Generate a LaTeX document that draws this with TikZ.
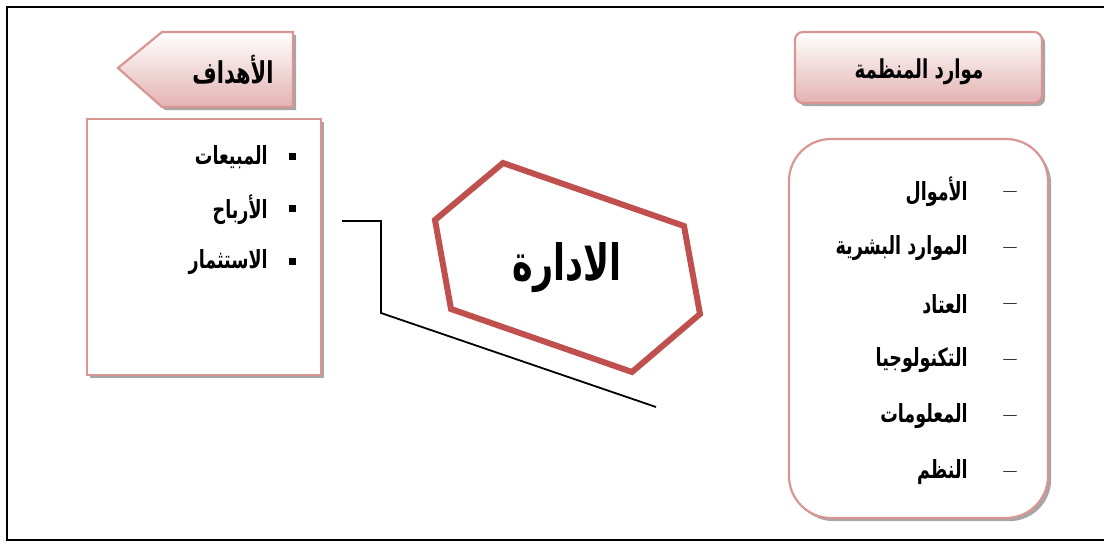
\documentclass[tikz,border=0pt]{standalone}
\usepackage{fontspec}
\usepackage{tikz}
\usetikzlibrary{shadows,positioning}
\TeXXeTstate=1
\newfontfamily\arabicfont[Script=Arabic,FakeStretch=0.7]{DejaVu Sans}
\definecolor{pinkline}{HTML}{D99594}
\definecolor{pinkfill}{HTML}{E3B3B2}
\definecolor{hexred}{HTML}{C0504D}
\tikzset{
  boxshadow/.style={drop shadow={shadow xshift=1.6pt, shadow yshift=-1.6pt, fill=gray!70, opacity=1}},
  headshade/.style={draw=pinkline, line width=1.1pt, top color=white, bottom color=pinkfill, boxshadow},
  listbox/.style={draw=pinkline, line width=1.1pt, fill=white, boxshadow},
  headtext/.style={font=\arabicfont\bfseries\fontsize{15}{17}\selectfont, inner sep=0pt},
  itemtext/.style={font=\arabicfont\bfseries\fontsize{12.5}{14}\selectfont, inner sep=0pt, anchor=east},
  bigtext/.style={font=\arabicfont\bfseries\fontsize{25}{28}\selectfont, inner sep=0pt}
}
\begin{document}
\begin{tikzpicture}[x=0.5pt,y=-0.5pt]
\useasboundingbox (0,0) rectangle (1104,545);
\draw[line width=0.8pt] (7,7) rectangle (1110,540);

% goals header and list
\path[headshade] (118,68) -- (162,32) -- (293,32) -- (293,107) -- (162,107) -- cycle;
\node[headtext] (goals) at (233,70) {\beginR الأهداف\endR};
\node[listbox, minimum width=117pt, minimum height=128pt, inner sep=0pt] (goallist) at (204,247) {};
\foreach \txt [count=\i] in {المبيعات, الأرباح, الاستثمار}{
  \node[itemtext] (goal\i) at (268,104.5+52.5*\i) {\beginR\txt\endR};
  \fill (288.5,100.5+52.5*\i) rectangle +(7,7);
}

% resources header and list
\node[headshade, rounded corners=4pt, minimum width=123.5pt, minimum height=35.5pt] (reshead) at (918.5,67.5) {};
\node[headtext, font=\arabicfont\bfseries\fontsize{13}{15}\selectfont] (restitle) at (919,72) {\beginR موارد المنظمة\endR};
\node[listbox, rounded corners=21pt, minimum width=129.5pt, minimum height=189.5pt, inner sep=0pt] (reslist) at (918.5,328.5) {};
\foreach \txt [count=\i] in {الأموال, الموارد البشرية, العتاد, التكنولوجيا, المعلومات, النظم}{
  \node[itemtext] (res\i) at (968,136+56*\i) {\beginR\txt\endR};
  \node[inner sep=0pt] (dash\i) at (1010,139+56*\i) {\fontsize{12}{14}\selectfont\bfseries --};
}

% management hexagon
\draw[hexred, line width=3pt, line join=miter] (503,163) -- (684,226) -- (700,314) -- (632,372) -- (451,309) -- (435,220) -- cycle;
\node[bigtext] (mgmt) at (567,268) {\beginR الادارة\endR};

% connector
\coordinate (lineA) at (342,221);
\coordinate (lineB) at (656,407);
\draw[line width=0.9pt] (lineA) -- (381,221) -- (381,313) -- (lineB);
\end{tikzpicture}
\end{document}
